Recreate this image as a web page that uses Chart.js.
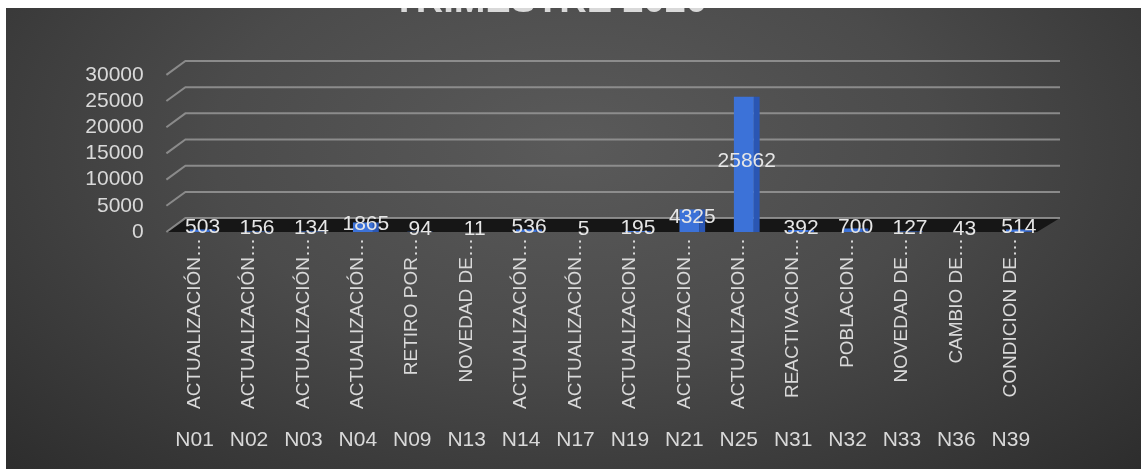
<!DOCTYPE html>
<html>
<head>
<meta charset="utf-8">
<script src="https://cdn.jsdelivr.net/npm/chart.js@4.4.0/dist/chart.umd.min.js"></script>
<style>
  html, body { margin: 0; padding: 0; background: #fff; }
  #wrap {
    position: absolute; left: 6px; top: 8px; width: 1135px; height: 461px;
    background: radial-gradient(ellipse at 50% 30%, #5a5a5a 0%, #4b4b4b 45%, #2d2d2d 100%);
  }
</style>
</head>
<body>
<div id="wrap"><canvas id="myChart"></canvas></div>
<script>
const codes = ["N01", "N02", "N03", "N04", "N09", "N13", "N14", "N17", "N19", "N21", "N25", "N31", "N32", "N33", "N36", "N39"];
const names = [
  "ACTUALIZACIÓN…", "ACTUALIZACIÓN…", "ACTUALIZACIÓN…", "ACTUALIZACIÓN…",
  "RETIRO POR…", "NOVEDAD DE…", "ACTUALIZACIÓN…", "ACTUALIZACIÓN…",
  "ACTUALIZACION…", "ACTUALIZACION…", "ACTUALIZACION…", "REACTIVACION…",
  "POBLACION…", "NOVEDAD DE…", "CAMBIO DE…", "CONDICION DE…",
];
const values = [503, 156, 134, 1865, 94, 11, 536, 5, 195, 4325, 25862, 392, 700, 127, 43, 514];
const yTicks = [0, 5000, 10000, 15000, 20000, 25000, 30000];

const yMax = 32650;
const depth = 2650; // how far the back wall sits above the front, in value units

Chart.defaults.font.family = "'Liberation Sans', Arial, sans-serif";
const textColor = "#d9d9d9";

// 3D-looking floor and back wall gridlines
const wallPlugin = {
  id: "wall",
  beforeDatasetsDraw(chart) {
    const { ctx, chartArea: a, scales: { y } } = chart;
    const front = y.getPixelForValue(0);
    const back = y.getPixelForValue(depth);
    ctx.save();
    ctx.fillStyle = "#161616";
    ctx.beginPath();
    ctx.moveTo(a.left + 10, back);
    ctx.lineTo(a.right + 14, back);
    ctx.lineTo(a.right - 9, front);
    ctx.lineTo(a.left - 9, front);
    ctx.closePath();
    ctx.fill();
    ctx.strokeStyle = "rgba(150,150,150,0.85)";
    ctx.lineWidth = 2;
    yTicks.forEach((v) => {
      const fy = y.getPixelForValue(v);
      const by = y.getPixelForValue(v + depth);
      ctx.beginPath();
      ctx.moveTo(a.left - 9, fy);
      ctx.lineTo(a.left + 10, by);
      ctx.lineTo(a.right + 14, by);
      ctx.stroke();
    });
    ctx.restore();
  },
};

const labelPlugin = {
  id: "valueLabels",
  afterDatasetsDraw(chart) {
    const { ctx } = chart;
    const meta = chart.getDatasetMeta(0);
    ctx.save();
    ctx.font = "21px 'Liberation Sans', Arial, sans-serif";
    ctx.fillStyle = "#e6e6e6";
    ctx.textAlign = "center";
    ctx.textBaseline = "middle";
    meta.data.forEach((bar, i) => {
      ctx.fillText(String(values[i]), bar.x, (bar.y + bar.base) / 2 - 3);
    });
    ctx.restore();
  },
};

const ctx = document.getElementById("myChart").getContext("2d");

const myChart = new Chart(ctx, {
  type: "bar",
  data: {
    labels: names,
    datasets: [
      {
        data: values,
        backgroundColor: "#3c72d8",
        borderColor: "#2a56b3",
        borderWidth: { top: 0, right: 6, bottom: 0, left: 0 },
        borderSkipped: false,
        barPercentage: 0.48,
        categoryPercentage: 1,
      },
    ],
  },
  plugins: [wallPlugin, labelPlugin],
  options: {
    responsive: true,
    maintainAspectRatio: false,
    animation: false,
    layout: {
      padding: { left: 47.6, right: 95, top: 0, bottom: 4.4 },
    },
    plugins: {
      legend: { display: false },
      tooltip: { enabled: false },
      title: {
        display: true,
        text: "TRIMESTRE 2020",
        color: textColor,
        font: { size: 38, weight: "bold" },
        padding: { top: -28.8, bottom: 36.2 },
      },
    },
    scales: {
      x: {
        type: "category",
        position: "bottom",
        weight: 0,
        offset: true,
        grid: { display: false, drawTicks: false },
        border: { display: false },
        ticks: {
          color: textColor,
          font: { size: 19 },
          autoSkip: false,
          minRotation: 90,
          maxRotation: 90,
          padding: 6,
          labelOffset: -8,
        },
      },
      x2: {
        type: "category",
        labels: codes,
        position: "bottom",
        weight: 1,
        offset: true,
        grid: { display: false, drawTicks: false },
        border: { display: false },
        ticks: {
          color: textColor,
          font: { size: 21 },
          autoSkip: false,
          maxRotation: 0,
          padding: 12.2,
          labelOffset: -8,
        },
      },
      y: {
        min: 0,
        max: yMax,
        grid: { display: false, drawTicks: false },
        border: { display: false },
        afterBuildTicks: (axis) => {
          axis.ticks = yTicks.map((v) => ({ value: v }));
        },
        ticks: {
          color: textColor,
          font: { size: 21 },
          padding: 31.7,
          autoSkip: false,
          callback: (v) => String(v),
        },
      },
    },
  },
});
</script>
</body>
</html>
